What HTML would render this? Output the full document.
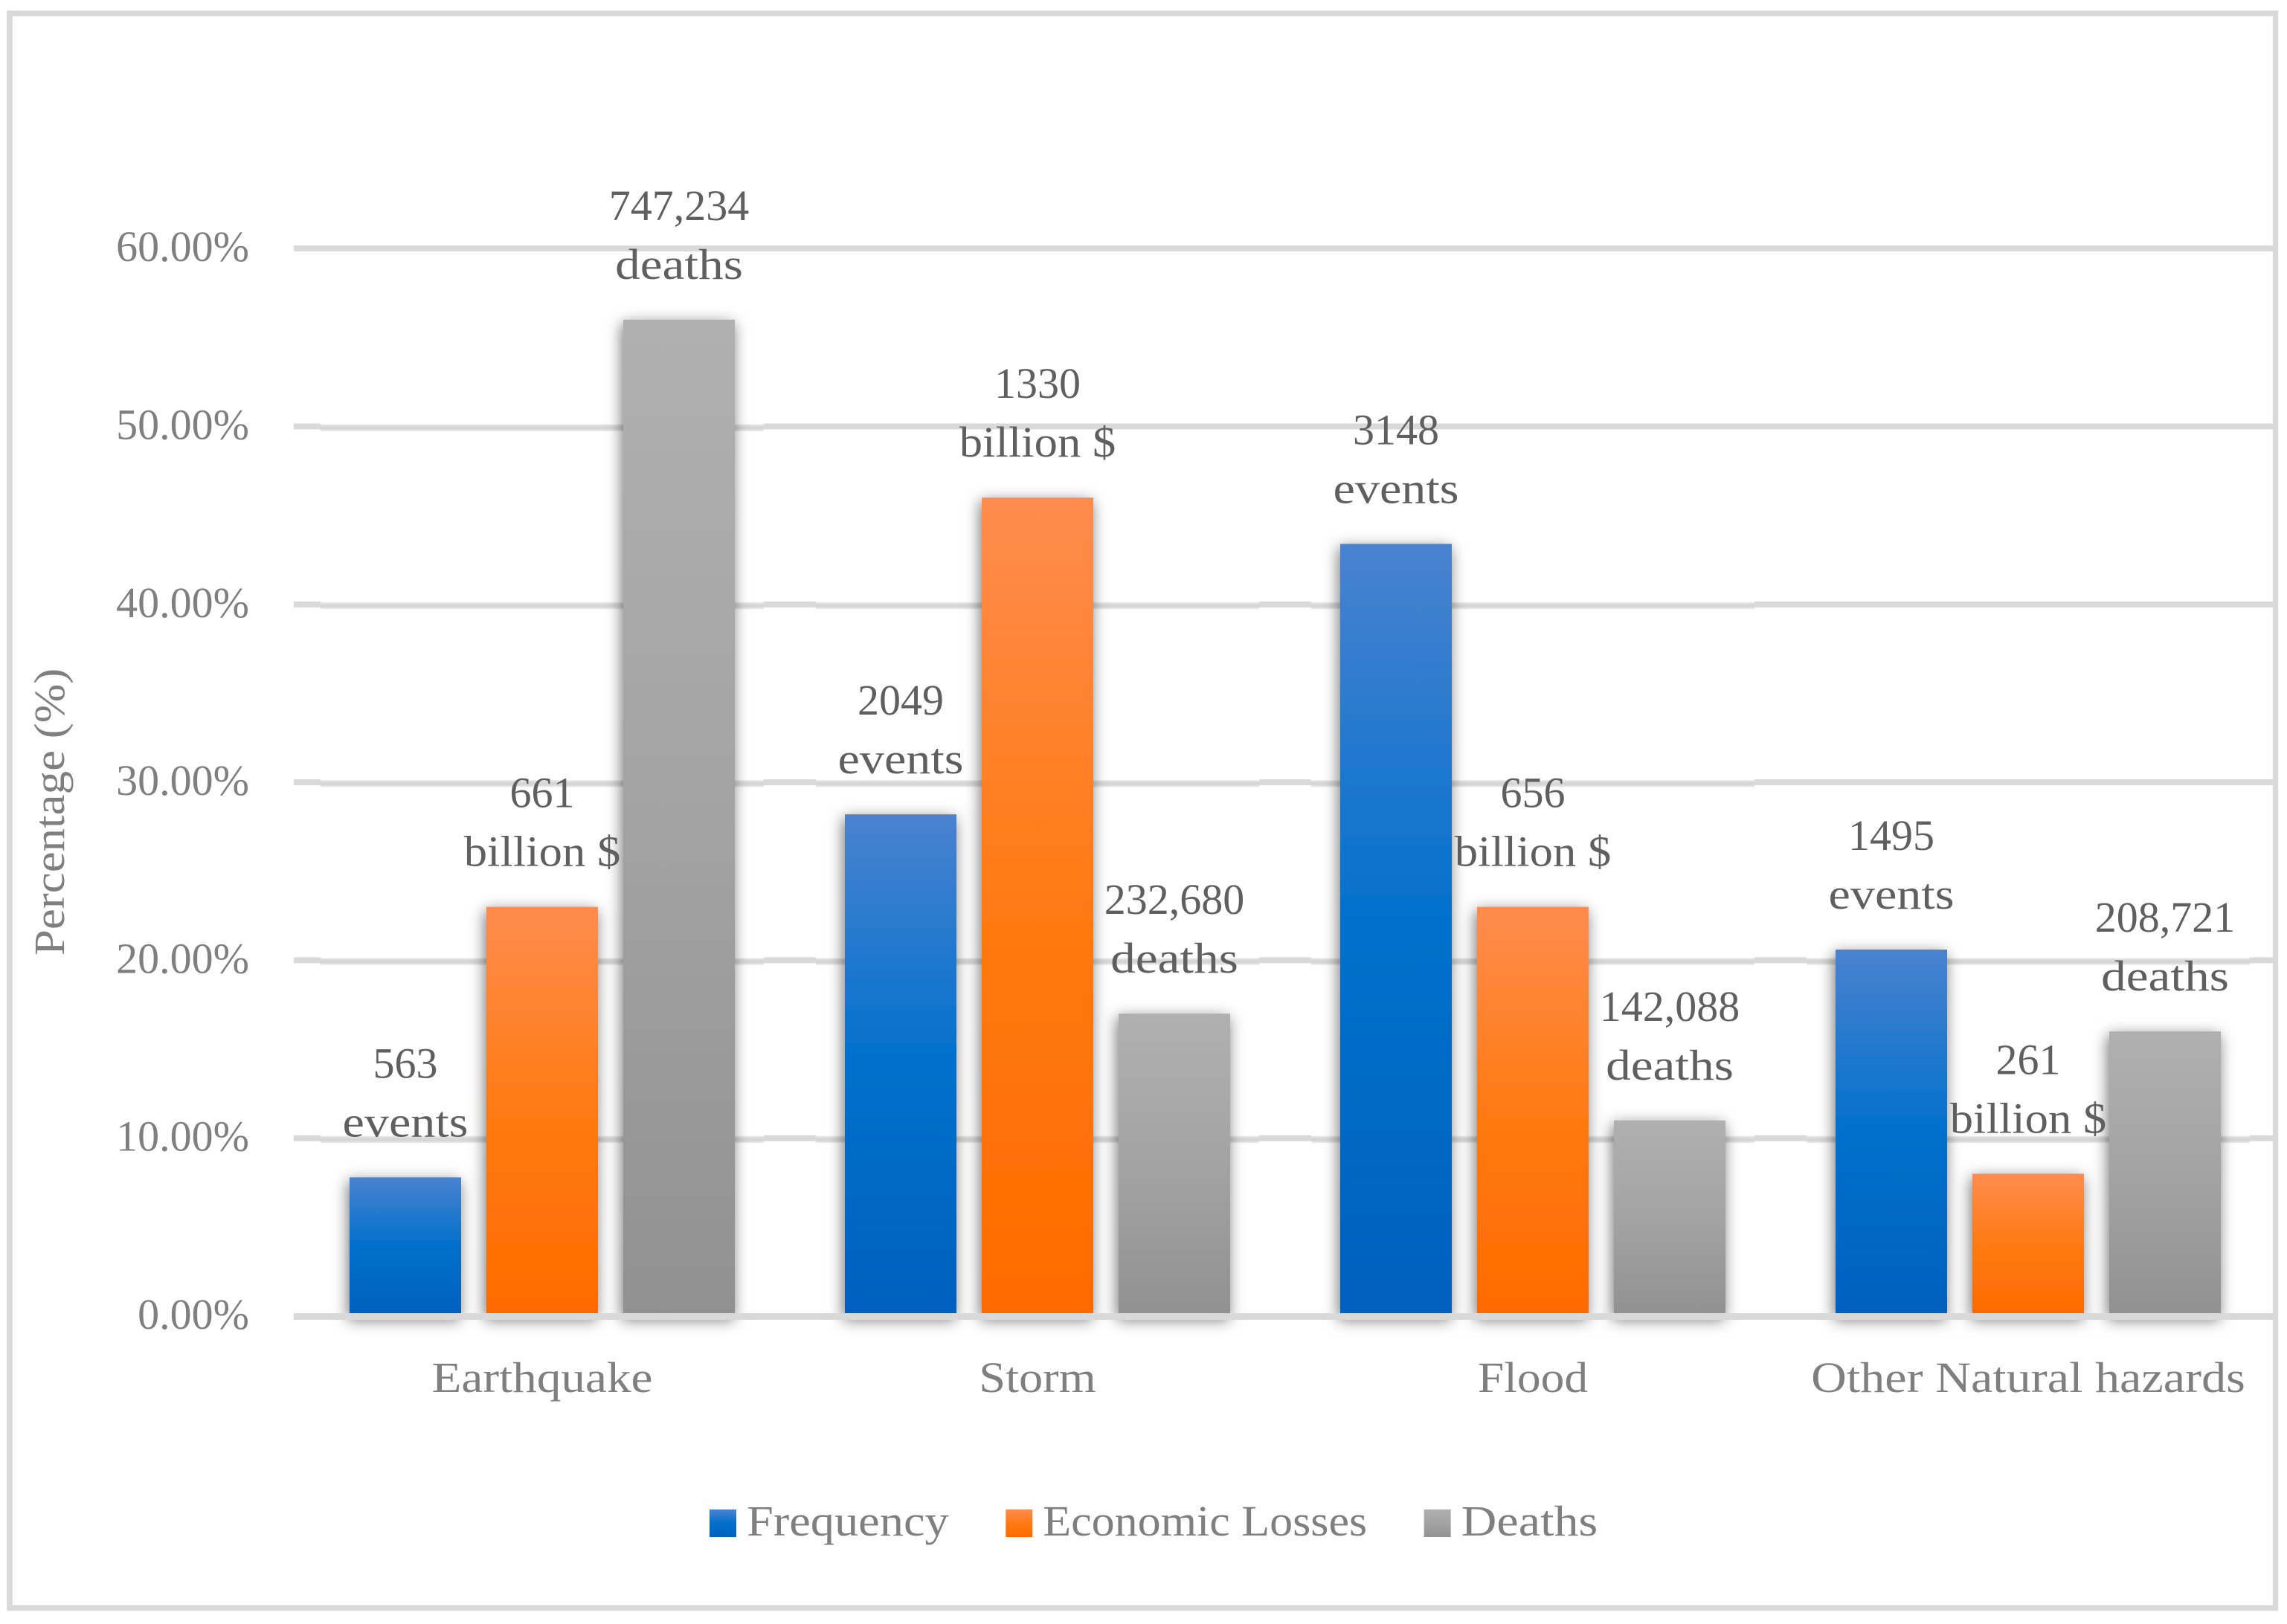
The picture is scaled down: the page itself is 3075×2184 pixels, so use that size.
<!DOCTYPE html>
<html lang="en">
<head>
<meta charset="utf-8">
<title>Natural hazards chart</title>
<style>
html,body{margin:0;padding:0;background:#fff;width:3075px;height:2184px;overflow:hidden}
svg{display:block}
text{font-family:"Liberation Serif",serif;font-size:58px}
.axis-text{fill:#7f7f7f}
.value-text{fill:#5f5f5f}
</style>
</head>
<body>
<svg id="chart" xmlns="http://www.w3.org/2000/svg" width="3075" height="2184" viewBox="0 0 3075 2184">
  <defs>
    <linearGradient id="grad-frequency" x1="0" y1="0" x2="0" y2="1">
      <stop offset="0" stop-color="#4a82d0"/><stop offset="0.5" stop-color="#0070cc"/><stop offset="1" stop-color="#0060be"/>
    </linearGradient>
    <linearGradient id="grad-economic" x1="0" y1="0" x2="0" y2="1">
      <stop offset="0" stop-color="#ff8c4e"/><stop offset="0.5" stop-color="#ff7a12"/><stop offset="1" stop-color="#ff6a00"/>
    </linearGradient>
    <linearGradient id="grad-deaths" x1="0" y1="0" x2="0" y2="1">
      <stop offset="0" stop-color="#b0b0b0"/><stop offset="0.5" stop-color="#a3a3a3"/><stop offset="1" stop-color="#919191"/>
    </linearGradient>
    <linearGradient id="grid-band" x1="0" y1="0" x2="0" y2="1">
      <stop offset="0" stop-color="#ececec"/><stop offset="0.35" stop-color="#d6d6d6"/><stop offset="0.65" stop-color="#d6d6d6"/><stop offset="1" stop-color="#efefef"/>
    </linearGradient>
    <filter id="bar-shadow" x="-60%" y="-60%" width="220%" height="220%" filterUnits="objectBoundingBox">
      <feDropShadow dx="-2" dy="5" stdDeviation="10" flood-color="#000" flood-opacity="0.55"/>
    </filter>
    <filter id="foot-blur" x="-10%" y="-200%" width="120%" height="500%">
      <feGaussianBlur stdDeviation="1.2"/>
    </filter>
  </defs>
  <rect x="13" y="18" width="3046.5" height="2144.5" fill="#fff" stroke="#d9d9d9" stroke-width="7.5"/>
  <g id="gridlines"></g>
  <g id="bars"></g>
  <g id="axis"></g>
  <g id="labels"></g>
  <g id="legend"></g>
</svg>
<script>
var categories = ["Earthquake", "Storm", "Flood", "Other Natural hazards"];
var frequencyValues = [7.8, 28.2, 43.4, 20.6];
var economicValues = [23, 46, 23, 8];
var deathsValues = [56, 17, 11, 16];
var frequencyLabels = ["563", "2049", "3148", "1495"];
var economicLabels = ["661", "1330", "656", "261"];
var deathsLabels = ["747,234", "232,680", "142,088", "208,721"];
var tickValues = [0, 10, 20, 30, 40, 50, 60];
var tickLabels = ["0.00%", "10.00%", "20.00%", "30.00%", "40.00%", "50.00%", "60.00%"];
var seriesNames = ["Frequency", "Economic Losses", "Deaths"];
var seriesUnits = ["events", "billion $", "deaths"];

var NS = "http://www.w3.org/2000/svg";
var plotLeft = 395;
var plotRight = 3058;
var barWidth = 150;

function yScale(v) { return 1770 - v * 23.93; }
function groupX(i) { return 470 + i * 666; }
function barX(i, s) { return groupX(i) + s * 184; }

/* Palatino-like horizontal widening for the Liberation Serif glyphs */
function widthFor(str) {
  switch (str) {
    case "events": return 1.14;
    case "deaths": return 1.16;
    case "billion $": return 1.08;
    case "Earthquake": return 1.125;
    case "Storm": return 1.11;
    case "Flood": return 1.095;
    case "Other Natural hazards": return 1.14;
    case "Frequency": return 1.11;
    case "Economic Losses": return 1.07;
    case "Deaths": return 1.14;
    default: return 1;
  }
}

function make(tag, attrs, parent) {
  var n = document.createElementNS(NS, tag);
  for (var k in attrs) n.setAttribute(k, attrs[k]);
  parent.appendChild(n);
  return n;
}

function drawText(parent, str, x, y, cls, anchor, name) {
  var t = make("text", {
    "class": cls,
    "text-anchor": anchor,
    transform: "translate(" + x + "," + y + ") scale(" + widthFor(str) + ",1)"
  }, parent);
  t.textContent = str;
  
  
  return t;
}

var gridG = document.getElementById("gridlines");
var barsG = document.getElementById("bars");
var axisG = document.getElementById("axis");
var labelsG = document.getElementById("labels");
var legendG = document.getElementById("legend");

var seriesKeys = ["frequency", "economic", "deaths"];
var seriesValues = [frequencyValues, economicValues, deathsValues];
var seriesLabels = [frequencyLabels, economicLabels, deathsLabels];

tickValues.forEach(function (v, i) {
  if (v !== 0) {
    var line = make("rect", { x: plotLeft, y: yScale(v) - 4, width: plotRight - plotLeft, height: 8, fill: "#d9d9d9" }, gridG);
    
    
    categories.forEach(function (c, g) {
      var top = Math.max(frequencyValues[g], economicValues[g], deathsValues[g]);
      if (v < top) {
        var bx = groupX(g) - 39;
        var bw = 2 * 184 + barWidth + 78;
        make("rect", { x: bx, y: yScale(v) - 4.5, width: bw, height: 10, fill: "#fff" }, gridG);
        var band = make("rect", { x: bx, y: yScale(v) - 3, width: bw, height: 9.5, fill: "url(#grid-band)" }, gridG);
        
        
      }
    });
  }
  drawText(axisG, tickLabels[i], 335, yScale(v) + 17, "axis-text", "end", "y-tick-label-" + v);
});

seriesValues.forEach(function (values, s) {
  values.forEach(function (v, i) {
    var top = yScale(v);
    var foot = make("rect", { x: barX(i, s) + 8, y: yScale(0) + 5, width: barWidth - 16, height: 2, fill: "#c6c6c6", filter: "url(#foot-blur)" }, axisG);
    
    

    var bar = make("rect", {
      x: barX(i, s), y: top, width: barWidth, height: yScale(0) - top,
      fill: "url(#grad-" + seriesKeys[s] + ")",
      filter: "url(#bar-shadow)"
    }, barsG);
    
    

    var cx = barX(i, s) + barWidth / 2;
    drawText(labelsG, seriesLabels[s][i], cx, top - 134, "value-text", "middle", "value-label-" + seriesKeys[s] + "-" + i);
    drawText(labelsG, seriesUnits[s], cx, top - 55, "value-text", "middle", "unit-label-" + seriesKeys[s] + "-" + i);
  });
});

var baseline = make("rect", { x: plotLeft, y: yScale(0) - 4, width: plotRight - plotLeft, height: 9, fill: "#d9d9d9" }, axisG);



categories.forEach(function (c, i) {
  drawText(axisG, c, barX(i, 1) + barWidth / 2, 1872, "axis-text", "middle", "category-label-" + i);
});

var yTitle = make("text", {
  "class": "axis-text", "text-anchor": "middle",
  transform: "translate(86,1092) rotate(-90) scale(1.086,1)"
}, axisG);
yTitle.textContent = "Percentage (%)";



var legendCursor = 954;
seriesNames.forEach(function (n, i) {
  var sw = make("rect", { x: legendCursor, y: 2030, width: 36, height: 37, fill: "url(#grad-" + seriesKeys[i] + ")" }, legendG);
  
  
  var label = drawText(legendG, n, legendCursor + 50, 2065, "axis-text", "start", "legend-entry-" + seriesKeys[i]);
  legendCursor += 50 + label.getComputedTextLength() * widthFor(n) + 76.5;
});
</script>
</body>
</html>
